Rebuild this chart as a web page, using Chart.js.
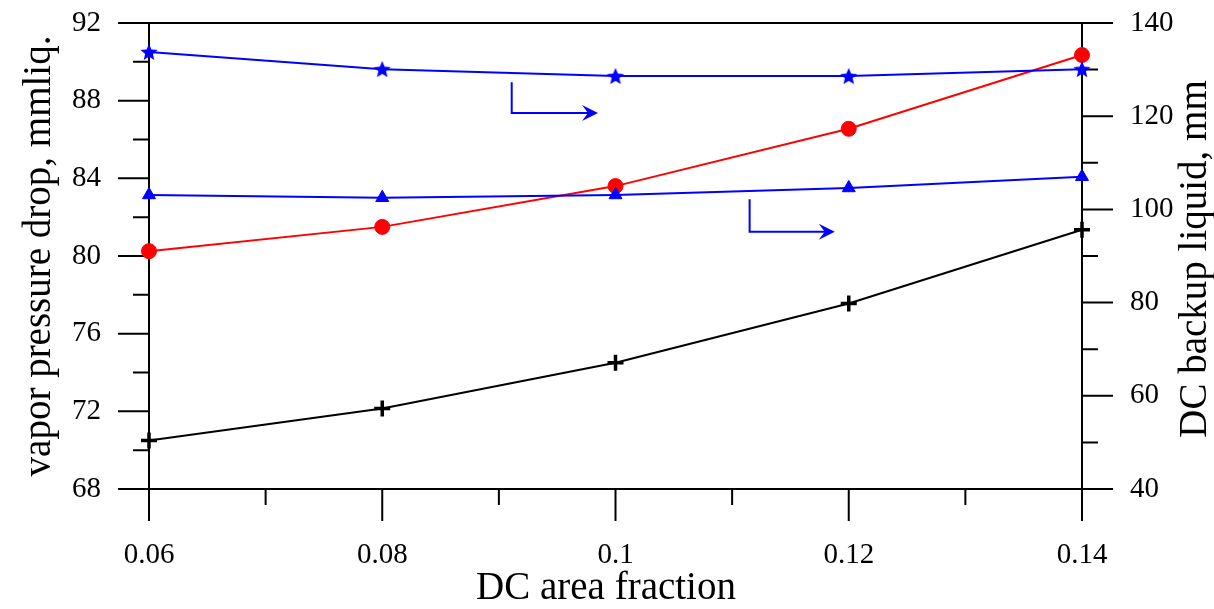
<!DOCTYPE html>
<html>
<head>
<meta charset="utf-8">
<script src="https://cdn.jsdelivr.net/npm/chart.js@4.4.0/dist/chart.umd.min.js"></script>
<style>
  html, body { margin: 0; padding: 0; background: #fff; }
  canvas { display: block; }
</style>
</head>
<body>
<canvas id="chart" width="1214" height="609"></canvas>
<script>
// ---------- DATA ----------
const dcAreaFraction = [0.06, 0.08, 0.1, 0.12, 0.14];
const pressureDropCircle = [80.25, 81.5, 83.6, 86.55, 90.35];   // red, left axis
const pressureDropPlus = [70.5, 72.15, 74.5, 77.55, 81.35];     // black, left axis
const backupStar = [133.8, 130.1, 128.6, 128.6, 130.1];         // blue, right axis
const backupTriangle = [103.1, 102.5, 103.1, 104.6, 107.0];     // blue, right axis

const xMajor = [0.06, 0.08, 0.1, 0.12, 0.14];
const xMinor = [0.07, 0.09, 0.11, 0.13];
const leftMajor = [68, 72, 76, 80, 84, 88, 92];
const leftMinor = [70, 74, 78, 82, 86, 90];
const rightMajor = [40, 60, 80, 100, 120, 140];
const rightMinor = [50, 70, 90, 110, 130];

// arrows pointing to the right axis: [x0, yTop, yBottom, xEnd] in data units (right axis)
const arrows = [
  [0.0911, 127.3, 120.7, 0.0985],
  [0.1115, 102.2, 95.2, 0.1188]
];

const FONT = "'Liberation Serif', 'Times New Roman', serif";

// ---------- filled star marker ----------
function starCanvas(color, R) {
  const c = document.createElement('canvas');
  const s = Math.ceil(R * 2 + 2);
  c.width = c.height = s;
  const g = c.getContext('2d');
  g.fillStyle = color;
  g.beginPath();
  for (let i = 0; i < 10; i++) {
    const r = i % 2 ? R * 0.45 : R;
    const a = -Math.PI / 2 + i * Math.PI / 5;
    const px = s / 2 + r * Math.cos(a), py = s / 2 + r * Math.sin(a) + 0.8;
    i ? g.lineTo(px, py) : g.moveTo(px, py);
  }
  g.closePath();
  g.fill();
  return c;
}

const pts = (ys) => dcAreaFraction.map((x, i) => ({ x, y: ys[i] }));

// ---------- axes, ticks, titles, arrows ----------
const framePlugin = {
  id: 'frame',
  beforeDatasetsDraw(chart) {
    const { ctx, chartArea: a, scales } = chart;
    const x = scales.x, yl = scales.yL, yr = scales.yR;
    ctx.save();
    ctx.strokeStyle = '#000';
    ctx.lineWidth = 2;
    ctx.beginPath();
    ctx.rect(a.left, a.top, a.right - a.left, a.bottom - a.top);
    const tick = (x0, y0, x1, y1) => { ctx.moveTo(x0, y0); ctx.lineTo(x1, y1); };
    leftMajor.forEach(v => { const p = yl.getPixelForValue(v); tick(a.left - 31, p, a.left, p); });
    leftMinor.forEach(v => { const p = yl.getPixelForValue(v); tick(a.left - 16, p, a.left, p); });
    rightMajor.forEach(v => { const p = yr.getPixelForValue(v); tick(a.right, p, a.right + 31, p); });
    rightMinor.forEach(v => { const p = yr.getPixelForValue(v); tick(a.right, p, a.right + 16, p); });
    xMajor.forEach(v => { const p = x.getPixelForValue(v); tick(p, a.bottom, p, a.bottom + 32); });
    xMinor.forEach(v => { const p = x.getPixelForValue(v); tick(p, a.bottom, p, a.bottom + 16); });
    ctx.stroke();

    ctx.fillStyle = '#000';
    ctx.font = '39px ' + FONT;
    ctx.textAlign = 'center';
    ctx.textBaseline = 'middle';
    ctx.fillText('DC area fraction', 606, 589);
    // right axis title, reading bottom to top
    ctx.translate(1196, 259);
    ctx.rotate(-Math.PI / 2);
    ctx.fillText('DC backup liquid, mm', 0, 0);
    ctx.restore();
  },
  afterDatasetsDraw(chart) {
    const { ctx, scales } = chart;
    const x = scales.x, yr = scales.yR;
    ctx.save();
    ctx.strokeStyle = '#0000ff';
    ctx.fillStyle = '#0000ff';
    ctx.lineWidth = 2;
    arrows.forEach(([x0, yt, yb, x1]) => {
      const px0 = x.getPixelForValue(x0), px1 = x.getPixelForValue(x1);
      const pyt = yr.getPixelForValue(yt), pyb = yr.getPixelForValue(yb);
      ctx.beginPath();
      ctx.moveTo(px0, pyt);
      ctx.lineTo(px0, pyb);
      ctx.lineTo(px1 - 6, pyb);
      ctx.stroke();
      ctx.beginPath();
      ctx.moveTo(px1, pyb);
      ctx.lineTo(px1 - 16, pyb - 8);
      ctx.lineTo(px1 - 10, pyb);
      ctx.lineTo(px1 - 16, pyb + 8);
      ctx.closePath();
      ctx.fill();
    });
    ctx.restore();
  }
};

const fixedTicks = (arr) => (scale) => { scale.ticks = arr.map(v => ({ value: v })); };

new Chart(document.getElementById('chart').getContext('2d'), {
  type: 'line',
  data: {
    datasets: [
      { data: pts(backupStar), yAxisID: 'yR', borderColor: '#0000ff', backgroundColor: '#0000ff',
        pointStyle: starCanvas('#0000ff', 9), borderWidth: 2 },
      { data: pts(backupTriangle), yAxisID: 'yR', borderColor: '#0000ff', backgroundColor: '#0000ff',
        pointStyle: 'triangle', pointRadius: 7.5, pointBorderWidth: 1, borderWidth: 2 },
      { data: pts(pressureDropCircle), yAxisID: 'yL', borderColor: '#ff0000', backgroundColor: '#ff0000',
        pointStyle: 'circle', pointRadius: 7.5, pointBorderWidth: 1, borderWidth: 2 },
      { data: pts(pressureDropPlus), yAxisID: 'yL', borderColor: '#000', backgroundColor: '#000',
        pointStyle: 'cross', pointRadius: 8, pointBorderWidth: 3.5, borderWidth: 2 }
    ]
  },
  options: {
    responsive: false,
    animation: false,
    events: [],
    clip: false,
    layout: { padding: { top: 23, right: 0, bottom: 0, left: 0 } },
    elements: { line: { tension: 0, fill: false } },
    plugins: { legend: { display: false }, tooltip: { enabled: false } },
    scales: {
      x: {
        type: 'linear', min: 0.06, max: 0.14,
        afterBuildTicks: fixedTicks(xMajor),
        afterFit: (s) => { s.height = 120; },
        grid: { display: false, drawTicks: false },
        border: { display: false },
        ticks: {
          color: '#000', padding: 49, maxRotation: 0, autoSkip: false,
          font: { family: FONT, size: 29 },
          callback: (v) => String(+v.toFixed(2))
        }
      },
      yL: {
        type: 'linear', position: 'left', min: 68, max: 92,
        afterBuildTicks: fixedTicks(leftMajor),
        afterFit: (s) => { s.width = 149; },
        grid: { display: false, drawTicks: true, tickLength: 48 },
        border: { display: false },
        ticks: { color: '#000', padding: 0, font: { family: FONT, size: 29 } },
        title: { display: true, text: 'vapor pressure drop, mmliq.', color: '#000',
          font: { family: FONT, size: 39, lineHeight: 1.0 }, padding: { top: 20, bottom: 0 } }
      },
      yR: {
        type: 'linear', position: 'right', min: 40, max: 140,
        afterBuildTicks: fixedTicks(rightMajor),
        afterFit: (s) => { s.width = 132; },
        grid: { display: false, drawTicks: true, tickLength: 48 },
        border: { display: false },
        ticks: { color: '#000', padding: 0, font: { family: FONT, size: 29 } }
      }
    }
  },
  plugins: [framePlugin]
});
</script>
</body>
</html>
